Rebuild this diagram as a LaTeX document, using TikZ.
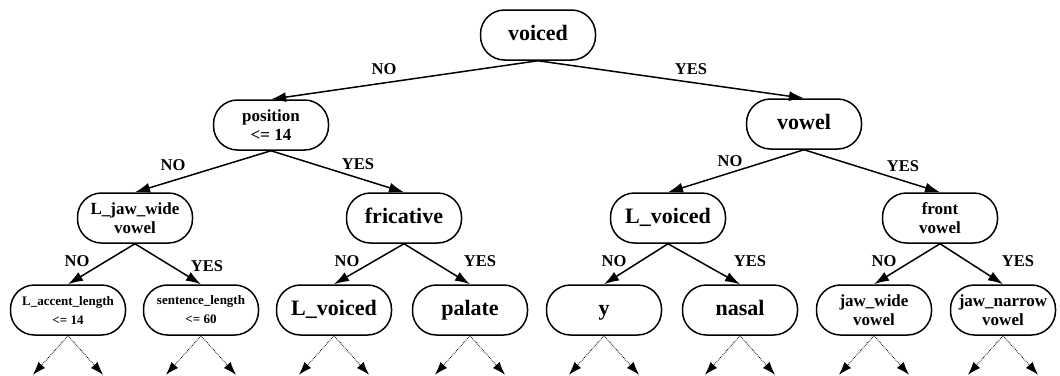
\documentclass[tikz,border=0pt]{standalone}
\usepackage{fontspec}
\setmainfont{Liberation Serif}
\usetikzlibrary{arrows.meta}
\begin{document}
\begin{tikzpicture}[x=1pt,y=-1pt,
box/.style={draw,line width=1.5pt,rounded corners=24pt,minimum width=115pt,minimum height=50pt,inner sep=0pt,align=center},
test/.style={box,text height=15pt,text depth=5pt,font=\bfseries\fontsize{22}{24}\selectfont},
two/.style={box,font=\bfseries\fontsize{17}{19}\selectfont},
tiny/.style={box,font=\bfseries\fontsize{13}{19}\selectfont},
ans/.style={font=\bfseries\fontsize{16.5}{18}\selectfont},
branch/.style={line width=1.5pt,-{Latex[length=15pt,width=10pt]}},
leaf/.style={line width=0.8pt,densely dotted,-{Latex[length=13pt,width=9pt]}}]
\useasboundingbox(0,0)rectangle(1060,375);
% tests
\node[test](voiced)at(538,35){voiced};
\node[two](position)at(271,125){position\\<= 14};
\node[test](vowel)at(804,124){vowel};
\node[two](ljaw)at(135,218){L\_jaw\_wide\\vowel};
\node[test](fricative)at(404,218){fricative};
\node[test](lvoiced)at(668,218){L\_voiced};
\node[two](front)at(940,218){front\\vowel};
\node[tiny](laccent)at(68,310){L\_accent\_length\\<= 14};
\node[tiny](sentence)at(201,310){sentence\_length\\<= 60};
\node[test](lvoicedb)at(334,310){L\_voiced};
\node[test](palate)at(470,310){palate};
\node[test](yy)at(604,310){y};
\node[test](nasal)at(740,310){nasal};
\node[two](jawwide)at(874,310){jaw\_wide\\vowel};
\node[two,minimum width=105pt](jawnarrow)at(1003,310){jaw\_narrow\\vowel};
% branches
\draw[branch](voiced.south)--(position.north);
\draw[branch](voiced.south)--(vowel.north);
\draw[branch](position.south)--(ljaw.north);
\draw[branch](position.south)--(fricative.north);
\draw[branch](vowel.south)--(lvoiced.north);
\draw[branch](vowel.south)--(front.north);
\draw[branch](ljaw.south)--(laccent.north);
\draw[branch](ljaw.south)--(sentence.north);
\draw[branch](fricative.south)--(lvoicedb.north);
\draw[branch](fricative.south)--(palate.north);
\draw[branch](lvoiced.south)--(yy.north);
\draw[branch](lvoiced.south)--(nasal.north);
\draw[branch](front.south)--(jawwide.north);
\draw[branch](front.south)--(jawnarrow.north);
% answers
\node[ans](no1)at(384,69){NO};
\node[ans](yes1)at(691,69){YES};
\node[ans](no2)at(173,165){NO};
\node[ans](yes2)at(358,164){YES};
\node[ans](no3)at(730,161){NO};
\node[ans](yes3)at(903,166){YES};
\node[ans](no4)at(77,261){NO};
\node[ans](yes4)at(207,266){YES};
\node[ans](no5)at(347,261){NO};
\node[ans](yes5)at(480,261){YES};
\node[ans](no6)at(614,261){NO};
\node[ans](yes6)at(750,261){YES};
\node[ans](no7)at(884,261){NO};
\node[ans](yes7)at(1018,261){YES};
% subtrees below
\foreach \n in {laccent,sentence,lvoicedb,palate,yy,nasal,jawwide,jawnarrow}{
\path(\n.south)++(-35,39)coordinate(\n-l);
\path(\n.south)++(35,39)coordinate(\n-r);
\draw[leaf](\n.south)--(\n-l);
\draw[leaf](\n.south)--(\n-r);
}
\end{tikzpicture}
\end{document}
